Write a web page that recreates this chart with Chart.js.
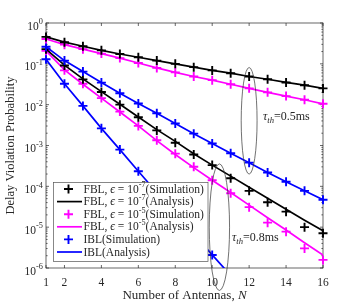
<!DOCTYPE html>
<html>
<head>
<meta charset="utf-8">
<script src="https://cdn.jsdelivr.net/npm/chart.js@4"></script>
<style>
html, body { margin: 0; padding: 0; background: #fff; }
</style>
</head>
<body>
<canvas id="myChart" width="357" height="303"></canvas>
<script>
// number of antennas
var antennas = [1, 2, 3, 4, 5, 6, 7, 8, 9, 10, 11, 12, 13, 14, 15, 16];
var xTicks = [1, 2, 4, 6, 8, 10, 12, 14, 16];
var yTickExps = [0, -1, -2, -3, -4, -5, -6];

// tau_th = 0.5 ms (simulation sits on the analysis curves)
var fbl7Tau05 = [0.457, 0.339, 0.269, 0.214, 0.174, 0.145, 0.120, 0.100, 0.083, 0.069, 0.059, 0.049, 0.042, 0.035, 0.030, 0.025];
var fbl5Tau05 = [0.407, 0.295, 0.229, 0.178, 0.138, 0.105, 0.0794, 0.0617, 0.0490, 0.0398, 0.0316, 0.0251, 0.0200, 0.0162, 0.0132, 0.0105];
var iblTau05 = [0.263, 0.120, 0.0646, 0.0347, 0.0191, 0.0107, 6.17e-3, 3.47e-3, 1.95e-3, 1.12e-3, 6.46e-4, 3.80e-4, 2.19e-4, 1.29e-4, 7.76e-5, 4.68e-5];

// tau_th = 0.8 ms
var fbl7AnaTau08 = [0.229, 0.0933, 0.0427, 0.0209, 0.0102, 5.01e-3, 2.45e-3, 1.26e-3, 6.31e-4, 3.31e-4, 1.78e-4, 9.55e-5, 5.13e-5, 2.75e-5, 1.48e-5, 8.13e-6];
var fbl7SimTau08 = [0.229, 0.0912, 0.0417, 0.0204, 0.0100, 4.90e-3, 2.34e-3, 1.17e-3, 6.03e-4, 3.31e-4, 1.58e-4, 7.76e-5, 4.07e-5, 2.40e-5, 1.00e-5, 7.08e-6];
var fbl5AnaTau08 = [0.209, 0.0708, 0.0316, 0.0145, 6.61e-3, 3.02e-3, 1.32e-3, 6.03e-4, 2.88e-4, 1.41e-4, 7.08e-5, 3.47e-5, 1.70e-5, 8.51e-6, 4.17e-6, 2.09e-6];
var fbl5SimTau08 = [0.209, 0.0692, 0.0324, 0.0145, 6.76e-3, 3.02e-3, 1.35e-3, 6.31e-4, 3.02e-4, 1.41e-4, 6.76e-5, 3.09e-5, 1.29e-5, 7.76e-6, 3.02e-6, 1.58e-6];
var iblAnaTau08 = [0.129, 0.0324, 9.33e-3, 2.63e-3, 7.94e-4, 2.34e-4, 7.08e-5, 2.19e-5, 6.76e-6, 2.09e-6, 6.6e-7];
var iblSimTau08 = [0.129, 0.0324, 9.33e-3, 2.63e-3, 7.94e-4, 2.34e-4, 7.08e-5, 2.19e-5, 6.76e-6, 2.09e-6];

var BLACK = '#000000', MAGENTA = '#ff00ff', BLUE = '#0000ff';
var FONT = "'Liberation Serif', 'Times New Roman', serif";

function pts(ys) {
  return ys.map(function (v, i) { return { x: antennas[i], y: v }; });
}
function curve(ys, color) {
  return { data: pts(ys), borderColor: color, borderWidth: 1.7, pointRadius: 0, fill: false, tension: 0 };
}
function marks(ys, color) {
  return { data: pts(ys), showLine: false, pointStyle: 'cross', pointRadius: 4.5,
           pointBorderWidth: 1.9, pointBorderColor: color, borderColor: color, clip: false };
}

// draw a run of text pieces (normal / italic / sup / sub), baseline middle
function rich(ctx, x, y, parts, size) {
  parts.forEach(function (p) {
    var s = p.sup || p.sub ? size * 0.72 : size;
    ctx.font = (p.it ? 'italic ' : '') + s + 'px ' + FONT;
    var dy = p.sup ? -size * 0.38 : (p.sub ? size * 0.3 : 0);
    ctx.fillText(p.t, x, y + dy);
    x += ctx.measureText(p.t).width;
  });
  return x;
}
function richWidth(ctx, parts, size) {
  var w = 0;
  parts.forEach(function (p) {
    var s = p.sup || p.sub ? size * 0.72 : size;
    ctx.font = (p.it ? 'italic ' : '') + s + 'px ' + FONT;
    w += ctx.measureText(p.t).width;
  });
  return w;
}

var frame = {
  id: 'frame',
  beforeDatasetsDraw: function (chart) {
    var ctx = chart.ctx, a = chart.chartArea, xs = chart.scales.x, ys = chart.scales.y;
    ctx.save();
    ctx.strokeStyle = '#262626';
    ctx.lineWidth = 0.7;
    ctx.strokeRect(a.left, a.top, a.right - a.left, a.bottom - a.top);
    ctx.beginPath();
    xTicks.forEach(function (t) {
      var px = xs.getPixelForValue(t);
      ctx.moveTo(px, a.bottom); ctx.lineTo(px, a.bottom - 3);
      ctx.moveTo(px, a.top); ctx.lineTo(px, a.top + 3);
    });
    yTickExps.forEach(function (e) {
      var py = ys.getPixelForValue(Math.pow(10, e));
      ctx.moveTo(a.left, py); ctx.lineTo(a.left + 3, py);
      ctx.moveTo(a.right, py); ctx.lineTo(a.right - 3, py);
      if (e > -6) {
        for (var m = 2; m <= 9; m++) {
          var pm = ys.getPixelForValue(m * Math.pow(10, e - 1));
          ctx.moveTo(a.left, pm); ctx.lineTo(a.left + 1.6, pm);
          ctx.moveTo(a.right, pm); ctx.lineTo(a.right - 1.6, pm);
        }
      }
    });
    ctx.stroke();
    ctx.restore();
  },
  afterDatasetsDraw: function (chart) {
    var ctx = chart.ctx, a = chart.chartArea, xs = chart.scales.x, ys = chart.scales.y;
    ctx.save();
    ctx.fillStyle = '#262626';
    ctx.textBaseline = 'middle';

    // x tick labels
    ctx.textAlign = 'center';
    ctx.font = '11.5px ' + FONT;
    xTicks.forEach(function (t) {
      ctx.fillText(String(t), xs.getPixelForValue(t), a.bottom + 15);
    });
    // y tick labels 10^e
    ctx.textAlign = 'left';
    yTickExps.forEach(function (e) {
      var py = ys.getPixelForValue(Math.pow(10, e)) + 3.5;
      var parts = [{ t: '10' }, { t: e === 0 ? '0' : '-' + (-e), sup: true }];
      var w = richWidth(ctx, parts, 11.5);
      rich(ctx, 43 - w, py, parts, 11.5);
    });
    // axis titles
    var xt = [{ t: 'Number of Antennas, ' }, { t: 'N', it: true }];
    rich(ctx, (a.left + a.right) / 2 - richWidth(ctx, xt, 13) / 2, 296, xt, 13);
    ctx.save();
    ctx.translate(11, (a.top + a.bottom) / 2);
    ctx.rotate(-Math.PI / 2);
    ctx.textAlign = 'center';
    ctx.font = '12.5px ' + FONT;
    ctx.fillText('Delay Violation Probability', 0, 0);
    ctx.restore();

    // ellipses marking the two tau groups
    ctx.strokeStyle = '#333';
    ctx.lineWidth = 0.7;
    function ring(n, dn, top, bot) {
      var cx = xs.getPixelForValue(n), rx = xs.getPixelForValue(n + dn) - cx;
      var t = ys.getPixelForValue(top), b = ys.getPixelForValue(bot);
      ctx.beginPath();
      ctx.ellipse(cx, (t + b) / 2, rx, (b - t) / 2, 0, 0, 2 * Math.PI);
      ctx.stroke();
    }
    ring(12, 0.43, Math.pow(10, -1.09), Math.pow(10, -3.70));
    ring(10.39, 0.55, Math.pow(10, -3.45), Math.pow(10, -6.55));

    ctx.fillStyle = '#262626';
    var tau05 = [{ t: 'τ', it: true }, { t: 'th', it: true, sub: true }, { t: '=0.5ms' }];
    var tau08 = [{ t: 'τ', it: true }, { t: 'th', it: true, sub: true }, { t: '=0.8ms' }];
    rich(ctx, 263, 117, tau05, 12);
    rich(ctx, 232, 238, tau08, 12);

    // legend
    var lx = 53.5, ly = 182.5, lw = 154.5, lh = 79;
    ctx.fillStyle = '#fff';
    ctx.fillRect(lx, ly, lw, lh);
    ctx.strokeStyle = '#555';
    ctx.lineWidth = 0.7;
    ctx.strokeRect(lx, ly, lw, lh);
    var rows = [
      { c: BLACK, mark: true, txt: [{ t: 'FBL, ' }, { t: 'ϵ', it: true }, { t: ' = 10' }, { t: '-7', sup: true }, { t: '(Simulation)' }] },
      { c: BLACK, mark: false, txt: [{ t: 'FBL, ' }, { t: 'ϵ', it: true }, { t: ' = 10' }, { t: '-7', sup: true }, { t: '(Analysis)' }] },
      { c: MAGENTA, mark: true, txt: [{ t: 'FBL, ' }, { t: 'ϵ', it: true }, { t: ' = 10' }, { t: '-5', sup: true }, { t: '(Simulation)' }] },
      { c: MAGENTA, mark: false, txt: [{ t: 'FBL, ' }, { t: 'ϵ', it: true }, { t: ' = 10' }, { t: '-5', sup: true }, { t: '(Analysis)' }] },
      { c: BLUE, mark: true, txt: [{ t: 'IBL(Simulation)' }] },
      { c: BLUE, mark: false, txt: [{ t: 'IBL(Analysis)' }] }
    ];
    rows.forEach(function (r, i) {
      var y = 189 + i * 12.6;
      ctx.strokeStyle = r.c;
      ctx.beginPath();
      if (r.mark) {
        ctx.lineWidth = 1.9;
        ctx.moveTo(68.5 - 4.5, y); ctx.lineTo(68.5 + 4.5, y);
        ctx.moveTo(68.5, y - 4.5); ctx.lineTo(68.5, y + 4.5);
      } else {
        ctx.lineWidth = 1.7;
        ctx.moveTo(57, y); ctx.lineTo(82, y);
      }
      ctx.stroke();
      ctx.fillStyle = '#262626';
      rich(ctx, 83.5, y + 0.5, r.txt, 11.5);
    });
    ctx.restore();
  }
};

var ctx = document.getElementById('myChart').getContext('2d');
new Chart(ctx, {
  type: 'line',
  data: {
    datasets: [
      marks(fbl7Tau05, BLACK), curve(fbl7Tau05, BLACK),
      marks(fbl5Tau05, MAGENTA), curve(fbl5Tau05, MAGENTA),
      marks(iblTau05, BLUE), curve(iblTau05, BLUE),
      marks(fbl7SimTau08, BLACK), curve(fbl7AnaTau08, BLACK),
      marks(fbl5SimTau08, MAGENTA), curve(fbl5AnaTau08, MAGENTA),
      marks(iblSimTau08, BLUE), curve(iblAnaTau08, BLUE)
    ]
  },
  options: {
    responsive: false,
    animation: false,
    layout: { padding: { left: 46, top: 23, right: 34, bottom: 35 } },
    plugins: { legend: { display: false }, tooltip: { enabled: false } },
    scales: {
      x: { type: 'linear', min: 1, max: 16, display: false },
      y: { type: 'logarithmic', min: 1e-6, max: 1, display: false }
    }
  },
  plugins: [frame]
});
</script>
</body>
</html>
